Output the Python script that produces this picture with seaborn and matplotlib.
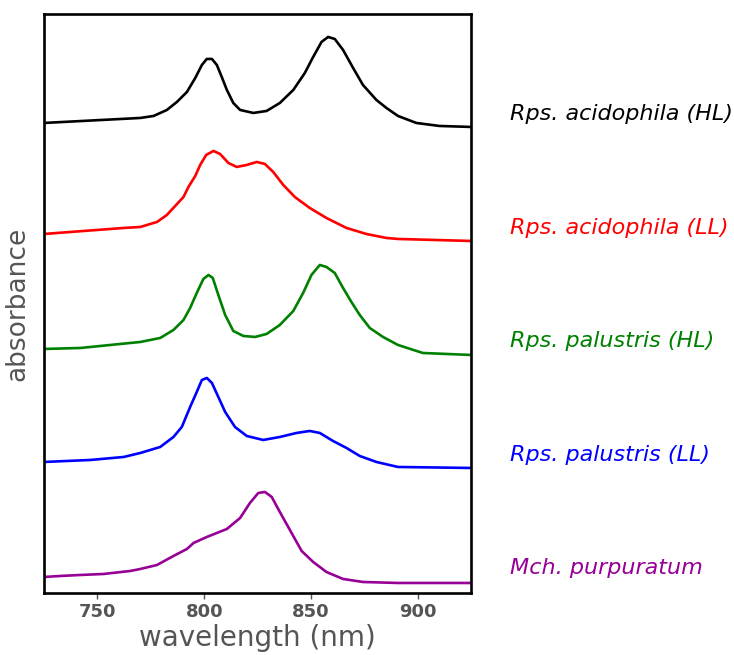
import matplotlib
matplotlib.use("Agg")
import matplotlib.pyplot as plt
import pandas as pd
import seaborn as sns

# stacked absorbance spectra (offsets already included)
wl_acid_hl = [725, 770.1, 776.3, 782.5, 787.2, 791.9, 795.8, 798.9, 801.2, 803.6,
              805.9, 808.2, 810.6, 813.6, 816.8, 823.0, 829.2, 835.4, 841.7, 847.1,
              851.0, 854.9, 858.0, 861.1, 865.0, 869.7, 874.3, 880.6, 885.3, 890.7,
              899.3, 910.1, 925]
abs_acid_hl = [4.70, 4.75, 4.77, 4.83, 4.91, 5.01, 5.15, 5.28, 5.34, 5.34,
               5.28, 5.16, 5.03, 4.90, 4.83, 4.80, 4.82, 4.90, 5.03, 5.20,
               5.36, 5.51, 5.56, 5.54, 5.43, 5.25, 5.08, 4.93, 4.85, 4.77,
               4.70, 4.67, 4.66]

wl_acid_ll = [725, 762.3, 770.1, 777.9, 782.5, 786.4, 790.3, 792.6, 795.8, 798.1,
              800.9, 804.3, 807.4, 811.3, 815.2, 819.9, 824.6, 828.4, 832.3, 837.0,
              842.4, 849.4, 857.2, 866.6, 875.9, 885.3, 890.7, 925]
abs_acid_ll = [3.59, 3.65, 3.66, 3.71, 3.78, 3.87, 3.96, 4.06, 4.17, 4.28,
               4.38, 4.42, 4.39, 4.30, 4.26, 4.28, 4.31, 4.29, 4.21, 4.08,
               3.96, 3.85, 3.75, 3.65, 3.59, 3.55, 3.54, 3.52]

wl_pal_hl = [725, 742.1, 760.7, 770.1, 779.4, 785.6, 790.3, 793.4, 796.5, 799.6,
             802.0, 804.0, 806.6, 809.8, 813.6, 818.3, 823.8, 829.2, 835.4, 841.7,
             846.3, 850.2, 854.1, 857.2, 861.1, 865.0, 868.9, 872.8, 877.5, 883.7,
             890.7, 902.3, 913.3, 925]
abs_pal_hl = [2.44, 2.45, 2.49, 2.51, 2.55, 2.63, 2.73, 2.85, 3.00, 3.14,
              3.18, 3.15, 2.98, 2.78, 2.62, 2.57, 2.56, 2.59, 2.68, 2.82,
              3.00, 3.18, 3.28, 3.26, 3.20, 3.05, 2.91, 2.78, 2.65, 2.56,
              2.48, 2.40, 2.39, 2.38]

wl_pal_ll = [725, 746.7, 762.3, 770.1, 779.4, 785.6, 789.5, 793.4, 796.5, 798.9,
             801.2, 803.6, 806.6, 809.8, 814.4, 819.9, 827.6, 835.4, 843.2, 849.4,
             854.1, 860.3, 866.6, 872.8, 880.6, 890.7, 925]
abs_pal_ll = [1.31, 1.33, 1.36, 1.40, 1.46, 1.56, 1.66, 1.86, 2.01, 2.13,
              2.15, 2.10, 1.96, 1.81, 1.66, 1.57, 1.53, 1.56, 1.60, 1.62,
              1.60, 1.52, 1.45, 1.37, 1.31, 1.26, 1.25]

wl_mch = [725, 732.7, 742.1, 752.9, 765.4, 770.1, 777.9, 785.6, 791.9, 795.0,
          801.2, 810.6, 816.8, 821.4, 825.3, 828.4, 831.6, 835.4, 840.1, 845.6,
          851.0, 857.2, 865.0, 874.3, 890.7, 925]
abs_mch = [0.16, 0.17, 0.18, 0.19, 0.22, 0.24, 0.28, 0.37, 0.44, 0.50,
           0.56, 0.64, 0.75, 0.90, 1.00, 1.01, 0.96, 0.81, 0.63, 0.42,
           0.31, 0.21, 0.14, 0.11, 0.10, 0.10]

names = ["Rps. acidophila (HL)", "Rps. acidophila (LL)", "Rps. palustris (HL)",
         "Rps. palustris (LL)", "Mch. purpuratum"]
colors = ["black", "red", "green", "blue", "#960096"]
label_y = [4.79, 3.65, 2.52, 1.38, 0.25]

spectra = [(wl_acid_hl, abs_acid_hl), (wl_acid_ll, abs_acid_ll), (wl_pal_hl, abs_pal_hl),
           (wl_pal_ll, abs_pal_ll), (wl_mch, abs_mch)]

frames = []
for name, (wl, ab) in zip(names, spectra):
    frames.append(pd.DataFrame({"wavelength": wl, "absorbance": ab, "sample": name}))
df = pd.concat(frames, ignore_index=True)

sns.set_style("white")

fig = plt.figure(figsize=(7.34, 6.55), dpi=100)
ax = fig.add_axes([0.060, 0.0947, 0.582, 0.884])

sns.lineplot(data=df, x="wavelength", y="absorbance", hue="sample",
             palette=dict(zip(names, colors)), hue_order=names,
             linewidth=1.9, legend=False, sort=False, ax=ax)

ax.set_xlim(725, 925)
ax.set_ylim(0, 5.79)
ax.set_xticks([750, 800, 850, 900])
ax.set_yticks([])

for tl in ax.get_xticklabels():
    tl.set_fontweight("bold")
ax.tick_params(axis="x", labelsize=13, labelcolor="#555555", length=4,
               width=1, bottom=True, direction="out", color="#555555")

ax.set_xlabel("wavelength (nm)", fontsize=20, color="#555555", labelpad=2)
ax.set_ylabel("absorbance", fontsize=19, color="#555555", labelpad=10)

for s in ax.spines.values():
    s.set_color("black")
    s.set_linewidth(1.9)

for name, c, y in zip(names, colors, label_y):
    ax.text(943, y, name, color=c, fontsize=16, fontstyle="italic",
            va="center", ha="left", clip_on=False)

fig.savefig("out.png", dpi=100)
